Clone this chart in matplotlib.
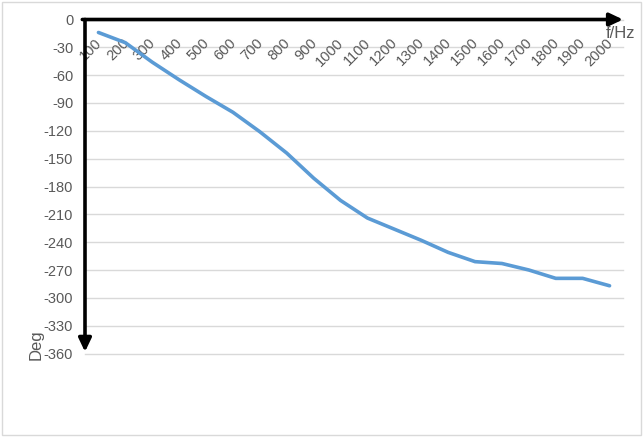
import matplotlib
matplotlib.use("Agg")
import matplotlib.pyplot as plt
from matplotlib.patches import Rectangle
from matplotlib.transforms import offset_copy

plt.rcParams['font.family'] = ['Liberation Sans', 'DejaVu Sans']

# phase response
freqs = [100, 200, 300, 400, 500, 600, 700, 800, 900, 1000,
         1100, 1200, 1300, 1400, 1500, 1600, 1700, 1800, 1900, 2000]
phase = [-14, -25, -46, -65, -83, -100, -121, -144, -171, -195,
         -214, -226, -238, -251, -261, -263, -270, -279, -279, -287]
yticks = list(range(0, -361, -30))

grey_text = '#595959'
grid_col = '#d9d9d9'
line_col = '#5b9bd5'

fig = plt.figure(figsize=(6.43, 4.37), dpi=100)
fig.patches.append(Rectangle((0.003, 0.004), 0.994, 0.992, transform=fig.transFigure,
                             fill=False, edgecolor=grid_col, lw=1))

ax = fig.add_axes([85 / 643, 1 - 353.5 / 437, (623 - 85) / 643, (353.5 - 19.5) / 437])

xs = list(range(len(freqs)))
ax.plot(xs, phase, color=line_col, lw=2.6, solid_capstyle='round', zorder=4)

ax.set_xlim(-0.5, len(freqs) - 0.5)
ax.set_ylim(-360, 0)
ax.set_xticks([])
ax.set_yticks(yticks)
ax.set_yticklabels([str(t) for t in yticks])
ax.tick_params(axis='y', length=0, pad=8.5, labelsize=10.5, labelcolor=grey_text)
ax.yaxis.grid(True, color=grid_col, lw=1)
for gl in ax.get_ygridlines():
    gl.set_clip_on(False)
ax.set_axisbelow(True)
for s in ax.spines.values():
    s.set_visible(False)

# category labels sit just under the top axis line, rotated 45 degrees
lab_trans = offset_copy(ax.get_xaxis_transform(), fig=fig, x=6, y=-16, units='dots')
for x, f in zip(xs, freqs):
    ax.text(x, 1, str(f), transform=lab_trans, rotation=45, ha='right', va='top',
            fontsize=10.5, color=grey_text, zorder=2)

# axis arrows
arrow = dict(arrowstyle='-|>,head_length=0.8,head_width=0.38', mutation_scale=10,
             color='black', lw=2.6, shrinkA=0, shrinkB=0)
ax.annotate('', xy=(1.0, 1.0), xytext=(-0.005, 1.0), xycoords='axes fraction',
            arrowprops=arrow, annotation_clip=False, zorder=5)
ax.annotate('', xy=(0.0, 0.005), xytext=(0.0, 1.0), xycoords='axes fraction',
            arrowprops=arrow, annotation_clip=False, zorder=5)

fig.text(621 / 643, 1 - 33 / 437, 'f/Hz', ha='center', va='center', fontsize=12, color=grey_text)
fig.text(36 / 643, 1 - 345 / 437, 'Deg', ha='center', va='center', rotation=90,
         fontsize=12, color=grey_text)

fig.savefig('out.png', dpi=100)
